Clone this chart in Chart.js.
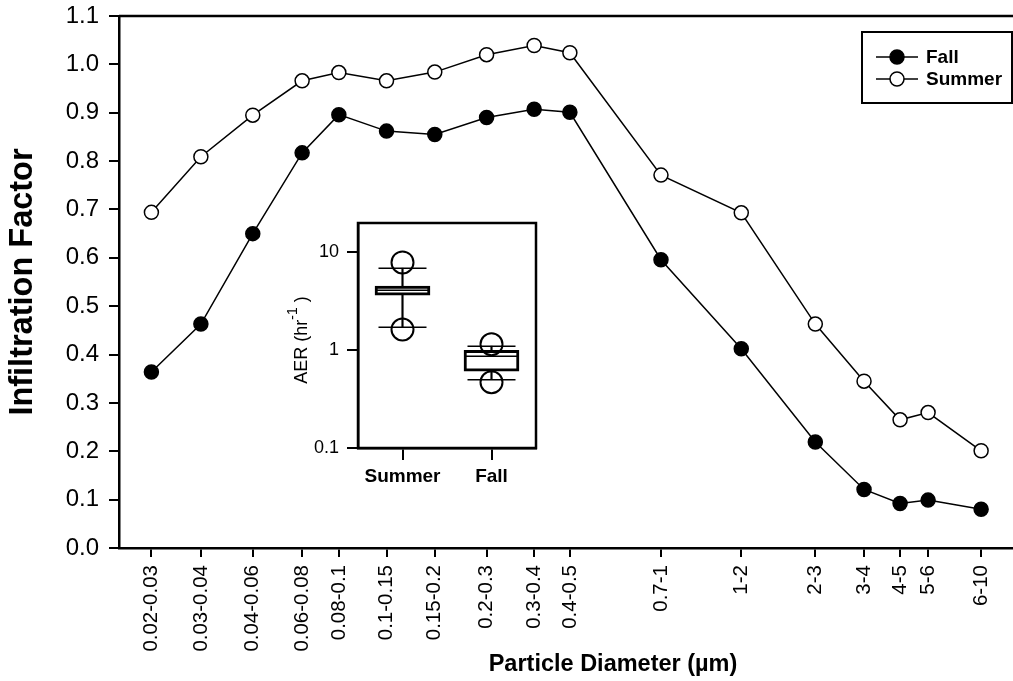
<!DOCTYPE html>
<html>
<head>
<meta charset="utf-8">
<script src="https://cdn.jsdelivr.net/npm/chart.js@4.4.0/dist/chart.umd.min.js"></script>
<style>
  body { margin: 0; background: #fff; }
  #wrap { position: relative; width: 1013px; height: 681px; }
  #main { position: absolute; left: 0; top: 0; }
  #inset { position: absolute; left: 270px; top: 200px; }
</style>
</head>
<body>
<div id="wrap">
  <canvas id="main" width="1013" height="681"></canvas>
  <canvas id="inset" width="290" height="300"></canvas>
</div>
<script>
// size bins and where they sit on the log diameter axis (um)
const sizeLabels = ['0.02-0.03', '0.03-0.04', '0.04-0.06', '0.06-0.08', '0.08-0.1', '0.1-0.15', '0.15-0.2', '0.2-0.3', '0.3-0.4', '0.4-0.5', '0.7-1', '1-2', '2-3', '3-4', '4-5', '5-6', '6-10'];
const diameters = [0.0245, 0.0345, 0.0494, 0.0695, 0.0896, 0.1246, 0.174, 0.249, 0.346, 0.443, 0.832, 1.45, 2.42, 3.39, 4.35, 5.28, 7.62];
const fallInf = [0.364, 0.463, 0.650, 0.817, 0.896, 0.862, 0.855, 0.890, 0.907, 0.901, 0.596, 0.412, 0.219, 0.121, 0.092, 0.099, 0.080];
const summerInf = [0.694, 0.809, 0.895, 0.966, 0.983, 0.966, 0.984, 1.020, 1.039, 1.024, 0.771, 0.693, 0.463, 0.345, 0.265, 0.280, 0.201];
const yTicks = [0, 0.1, 0.2, 0.3, 0.4, 0.5, 0.6, 0.7, 0.8, 0.9, 1.0, 1.1];

// inset: air exchange rate box plots
const seasons = ['Summer', 'Fall'];
const aerQ1 = [3.66, 0.61];
const aerQ3 = [4.52, 1.0];
const aerMedian = [4.1, 0.87];
const aerLowWhisker = [1.72, 0.50];
const aerHighWhisker = [6.9, 1.1];
const aerLowOut = [1.63, 0.47];
const aerHighOut = [7.9, 1.15];
const aerTicks = [0.1, 1, 10];

Chart.defaults.font.family = '"Liberation Sans", Arial, sans-serif';
Chart.defaults.color = '#000';

const noPad = s => { s.paddingLeft = 0; s.paddingRight = 0; s.paddingTop = 0; s.paddingBottom = 0; };

const mainDeco = {
  id: 'mainDeco',
  afterDraw(chart) {
    const ctx = chart.ctx;
    const a = chart.chartArea;
    ctx.save();
    // top frame line
    ctx.strokeStyle = '#000';
    ctx.lineWidth = 2.5;
    ctx.beginPath();
    ctx.moveTo(a.left, a.top);
    ctx.lineTo(a.right, a.top);
    ctx.stroke();

    // x axis title
    ctx.font = 'bold 23.5px "Liberation Sans", Arial, sans-serif';
    ctx.textAlign = 'center';
    ctx.textBaseline = 'middle';
    ctx.fillStyle = '#000';
    ctx.fillText('Particle Diameter (\u00b5m)', 613, 665);

    // legend
    ctx.lineWidth = 2;
    ctx.strokeRect(862, 32, 150, 71);
    const items = [
      { label: 'Fall', fill: '#000', y: 57 },
      { label: 'Summer', fill: '#fff', y: 79 }
    ];
    items.forEach(it => {
      ctx.lineWidth = 1.5;
      ctx.beginPath();
      ctx.moveTo(876, it.y);
      ctx.lineTo(918, it.y);
      ctx.stroke();
      ctx.beginPath();
      ctx.arc(897, it.y, 7, 0, Math.PI * 2);
      ctx.fillStyle = it.fill;
      ctx.fill();
      ctx.stroke();
      ctx.fillStyle = '#000';
      ctx.font = 'bold 19px "Liberation Sans", Arial, sans-serif';
      ctx.textAlign = 'left';
      ctx.fillText(it.label, 926, it.y + 1);
    });
    ctx.restore();
  }
};

new Chart(document.getElementById('main'), {
  type: 'line',
  data: {
    datasets: [{
      label: 'Fall',
      data: diameters.map((d, i) => ({ x: d, y: fallInf[i] })),
      borderColor: '#000',
      borderWidth: 1.5,
      pointRadius: 7,
      pointBorderWidth: 1.5,
      pointBackgroundColor: '#000',
      pointBorderColor: '#000'
    }, {
      label: 'Summer',
      data: diameters.map((d, i) => ({ x: d, y: summerInf[i] })),
      borderColor: '#000',
      borderWidth: 1.5,
      pointRadius: 7,
      pointBorderWidth: 1.5,
      pointBackgroundColor: '#fff',
      pointBorderColor: '#000'
    }]
  },
  options: {
    responsive: false,
    animation: false,
    layout: { autoPadding: false, padding: { top: 16, right: 0, left: 0, bottom: 0 } },
    plugins: { legend: { display: false }, tooltip: { enabled: false } },
    scales: {
      x: {
        type: 'logarithmic',
        bounds: 'data',
        min: 0.01958,
        max: 9.5,
        afterBuildTicks: s => { s.ticks = diameters.map(v => ({ value: v })); },
        afterFit: s => { s.height = 133; noPad(s); },
        ticks: {
          autoSkip: false,
          minRotation: 90,
          maxRotation: 90,
          padding: 8,
          font: { size: 20.5 },
          callback: (v, i) => sizeLabels[i]
        },
        grid: { drawOnChartArea: false, tickLength: 9, color: '#000', lineWidth: 2 },
        border: { color: '#000', width: 2.5 }
      },
      y: {
        min: 0,
        max: 1.1,
        afterBuildTicks: s => { s.ticks = yTicks.map(v => ({ value: v })); },
        afterFit: s => { s.width = 119; noPad(s); },
        ticks: {
          padding: 10,
          font: { size: 24 },
          callback: v => v.toFixed(1)
        },
        grid: { drawOnChartArea: false, tickLength: 10, color: '#000', lineWidth: 2 },
        border: { color: '#000', width: 2.5 },
        title: {
          display: true,
          text: 'Infiltration Factor',
          font: { size: 32.5, weight: 'bold' },
          padding: { top: 4, bottom: 0 }
        }
      }
    }
  },
  plugins: [mainDeco]
});

const insetDeco = {
  id: 'insetDeco',
  beforeDraw(chart) {
    const ctx = chart.ctx;
    const a = chart.chartArea;
    ctx.save();
    ctx.fillStyle = '#fff';
    ctx.fillRect(a.left, a.top, a.right - a.left, a.bottom - a.top);
    ctx.restore();
  },
  afterDraw(chart) {
    const ctx = chart.ctx;
    const a = chart.chartArea;
    ctx.save();
    ctx.strokeStyle = '#000';
    ctx.lineWidth = 2.5;
    ctx.strokeRect(a.left, a.top, a.right - a.left, a.bottom - a.top);

    // y title with superscript
    ctx.translate(30, 140);
    ctx.rotate(-Math.PI / 2);
    ctx.fillStyle = '#000';
    ctx.textBaseline = 'alphabetic';
    const main = 'AER (hr';
    const sup = '-1';
    const end = ' )';
    ctx.font = '18px "Liberation Sans", Arial, sans-serif';
    const w1 = ctx.measureText(main).width;
    const w3 = ctx.measureText(end).width;
    ctx.font = '14px "Liberation Sans", Arial, sans-serif';
    const w2 = ctx.measureText(sup).width;
    let x = -(w1 + w2 + w3) / 2;
    ctx.font = '18px "Liberation Sans", Arial, sans-serif';
    ctx.fillText(main, x, 7);
    ctx.font = '14px "Liberation Sans", Arial, sans-serif';
    ctx.fillText(sup, x + w1, -3);
    ctx.font = '18px "Liberation Sans", Arial, sans-serif';
    ctx.fillText(end, x + w1 + w2, 7);
    ctx.restore();
  }
};

const ptLine = (data, r) => ({
  type: 'line',
  data: data,
  showLine: false,
  pointStyle: 'line',
  pointRadius: r,
  borderColor: '#000',
  borderWidth: 1.5,
  order: 1
});
const ptCircle = data => ({
  type: 'line',
  data: data,
  showLine: false,
  pointStyle: 'circle',
  pointRadius: 11,
  pointBackgroundColor: 'rgba(0,0,0,0)',
  borderColor: '#000',
  pointBorderWidth: 2,
  order: 0
});

new Chart(document.getElementById('inset'), {
  type: 'bar',
  data: {
    labels: seasons,
    datasets: [{
      data: seasons.map((s, i) => [aerLowWhisker[i], aerHighWhisker[i]]),
      backgroundColor: '#000',
      barThickness: 1.5,
      grouped: false,
      order: 5
    }, {
      data: seasons.map((s, i) => [aerQ1[i], aerQ3[i]]),
      backgroundColor: '#fff',
      borderColor: '#000',
      borderWidth: 3,
      borderSkipped: false,
      barThickness: 55,
      grouped: false,
      order: 4
    },
    ptLine(aerMedian, 27),
    ptLine(aerLowWhisker, 24),
    ptLine(aerHighWhisker, 24),
    ptCircle(aerLowOut),
    ptCircle(aerHighOut)]
  },
  options: {
    responsive: false,
    animation: false,
    layout: { autoPadding: false, padding: { top: 23, right: 24, left: 0, bottom: 0 } },
    plugins: { legend: { display: false }, tooltip: { enabled: false } },
    scales: {
      x: {
        offset: true,
        afterFit: s => { s.height = 52; noPad(s); },
        ticks: { padding: 5, font: { size: 19, weight: 'bold' } },
        grid: { drawOnChartArea: false, offset: false, tickLength: 12, color: '#000', lineWidth: 2 },
        border: { color: '#000', width: 2.5 }
      },
      y: {
        type: 'logarithmic',
        bounds: 'data',
        min: 0.1,
        max: 20,
        afterBuildTicks: s => { s.ticks = aerTicks.map(v => ({ value: v })); },
        afterFit: s => { s.width = 88; noPad(s); },
        ticks: { padding: 8, font: { size: 18 }, callback: v => String(v) },
        grid: { drawOnChartArea: false, tickLength: 11, color: '#000', lineWidth: 2 },
        border: { color: '#000', width: 2.5 }
      }
    }
  },
  plugins: [insetDeco]
});
</script>
</body>
</html>
